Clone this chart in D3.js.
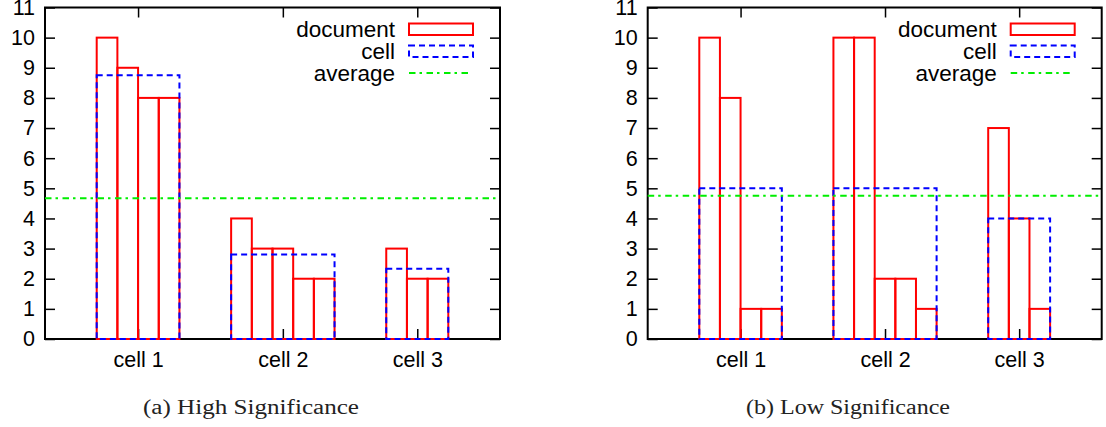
<!DOCTYPE html>
<html>
<head>
<meta charset="utf-8">
<script src="https://cdn.jsdelivr.net/npm/d3@7"></script>
<style>
  body { margin: 0; background: #fff; }
  svg text { font-family: "Liberation Sans", Arial, sans-serif; }
</style>
</head>
<body>
<div id="chart"></div>
<script>
// values
var categories = ["cell 1", "cell 2", "cell 3"];
var highDocs = [[10, 9, 8, 8], [4, 3, 3, 2, 2], [3, 2, 2]];
var highCell = [8.75, 2.8, 2.33];
var highAvg = 4.67;
var lowDocs = [[10, 8, 1, 1], [10, 10, 2, 2, 1], [7, 4, 1]];
var lowCell = [5, 5, 4];
var lowAvg = 4.75;
var yTickValues = [0, 1, 2, 3, 4, 5, 6, 7, 8, 9, 10, 11];
var legendLabels = ["document", "cell", "average"];
var captions = ["(a) High Significance", "(b) Low Significance"];

var width = 1106, height = 427;

var svg = d3.select("#chart").append("svg")
    .attr("width", width)
    .attr("height", height);

// one panel of the figure
function panel(docs, cell, avg, caption, left, right, capX, capLen) {
  var top = 7.5, bottom = 339;
  var gap = 2.5;

  // lay the cells out along a continuous x axis, gap units between groups
  var pos = gap, groups = [];
  docs.forEach(function(d, i) {
    groups.push({ start: pos, docs: d, cell: cell[i], name: categories[i] });
    pos += d.length + gap;
  });

  var x = d3.scaleLinear().domain([0, pos]).range([left, right]);
  var y = d3.scaleLinear().domain([0, 11]).range([bottom, top]);
  var centers = groups.map(function(g) { return g.start + g.docs.length / 2; });

  var g = svg.append("g");

  // axes, ticks pointing inward
  var ax = g.append("g").attr("class", "axes");
  ax.append("g")
      .attr("transform", "translate(" + left + ",0)")
      .call(d3.axisLeft(y).tickValues(yTickValues).tickSize(-10).tickPadding(10).tickFormat(d3.format("d")));
  ax.append("g")
      .attr("transform", "translate(" + right + ",0)")
      .call(d3.axisRight(y).tickValues(yTickValues).tickSize(-10).tickFormat(""));
  ax.append("g")
      .attr("transform", "translate(0," + top + ")")
      .call(d3.axisTop(x).tickValues(centers).tickSize(-10).tickFormat(""));
  ax.append("g")
      .attr("transform", "translate(0," + bottom + ")")
      .call(d3.axisBottom(x).tickValues(centers).tickSize(-10).tickPadding(13)
        .tickFormat(function(d, i) { return categories[i]; }));
  ax.selectAll(".domain").remove();
  ax.selectAll(".tick line").attr("stroke", "#000").attr("stroke-width", 1.5);
  ax.selectAll(".tick text").attr("font-size", 21.5).attr("fill", "#000");

  g.append("rect")
      .attr("x", left).attr("y", top)
      .attr("width", right - left).attr("height", bottom - top)
      .attr("fill", "none").attr("stroke", "#000").attr("stroke-width", 2);

  var bw = x(1) - x(0);

  // document bars
  groups.forEach(function(grp) {
    g.append("g").selectAll("rect")
        .data(grp.docs)
        .enter()
        .append("rect")
        .attr("x", function(d, j) { return x(grp.start + j); })
        .attr("y", function(d) { return y(d); })
        .attr("width", bw)
        .attr("height", function(d) { return y(0) - y(d); })
        .attr("fill", "none")
        .attr("stroke", "#ff0000")
        .attr("stroke-width", 2);
  });

  // cell boxes
  g.append("g").selectAll("rect")
      .data(groups)
      .enter()
      .append("rect")
      .attr("x", function(d) { return x(d.start); })
      .attr("y", function(d) { return y(d.cell); })
      .attr("width", function(d) { return x(d.start + d.docs.length) - x(d.start); })
      .attr("height", function(d) { return y(0) - y(d.cell); })
      .attr("fill", "none")
      .attr("stroke", "#0000ff")
      .attr("stroke-width", 2)
      .attr("stroke-dasharray", "6,4");

  // overall average
  g.append("line")
      .attr("x1", left).attr("x2", right)
      .attr("y1", y(avg)).attr("y2", y(avg))
      .attr("stroke", "#00ee00")
      .attr("stroke-width", 2)
      .attr("stroke-dasharray", "6.5,4,2.5,4.5");

  // legend
  var lg = g.append("g");
  var rowY = [29, 51, 73];
  lg.selectAll("text")
      .data(legendLabels)
      .enter()
      .append("text")
      .attr("x", right - 105)
      .attr("y", function(d, i) { return rowY[i] + 8; })
      .attr("text-anchor", "end")
      .attr("font-size", 22.5)
      .attr("fill", "#000")
      .text(function(d) { return d; });
  lg.append("rect")
      .attr("x", right - 91).attr("y", rowY[0] - 5.5)
      .attr("width", 64).attr("height", 11.5)
      .attr("fill", "none").attr("stroke", "#ff0000").attr("stroke-width", 2);
  lg.append("rect")
      .attr("x", right - 91).attr("y", rowY[1] - 5.5)
      .attr("width", 64).attr("height", 11.5)
      .attr("fill", "none").attr("stroke", "#0000ff").attr("stroke-width", 2)
      .attr("stroke-dasharray", "6,4");
  lg.append("line")
      .attr("x1", right - 91).attr("x2", right - 29)
      .attr("y1", rowY[2]).attr("y2", rowY[2])
      .attr("stroke", "#00ee00").attr("stroke-width", 2)
      .attr("stroke-dasharray", "6.5,4,2.5,4.5");

  // caption
  g.append("text")
      .attr("x", capX)
      .attr("y", 414)
      .attr("text-anchor", "middle")
      .attr("textLength", capLen)
      .attr("lengthAdjust", "spacingAndGlyphs")
      .style("font-family", "'Liberation Serif', 'Times New Roman', serif")
      .attr("font-size", 20)
      .attr("fill", "#222")
      .text(caption);
}

panel(highDocs, highCell, highAvg, captions[0], 45, 500, 251, 216);
panel(lowDocs, lowCell, lowAvg, captions[1], 647.7, 1101.7, 848, 204);
</script>
</body>
</html>
